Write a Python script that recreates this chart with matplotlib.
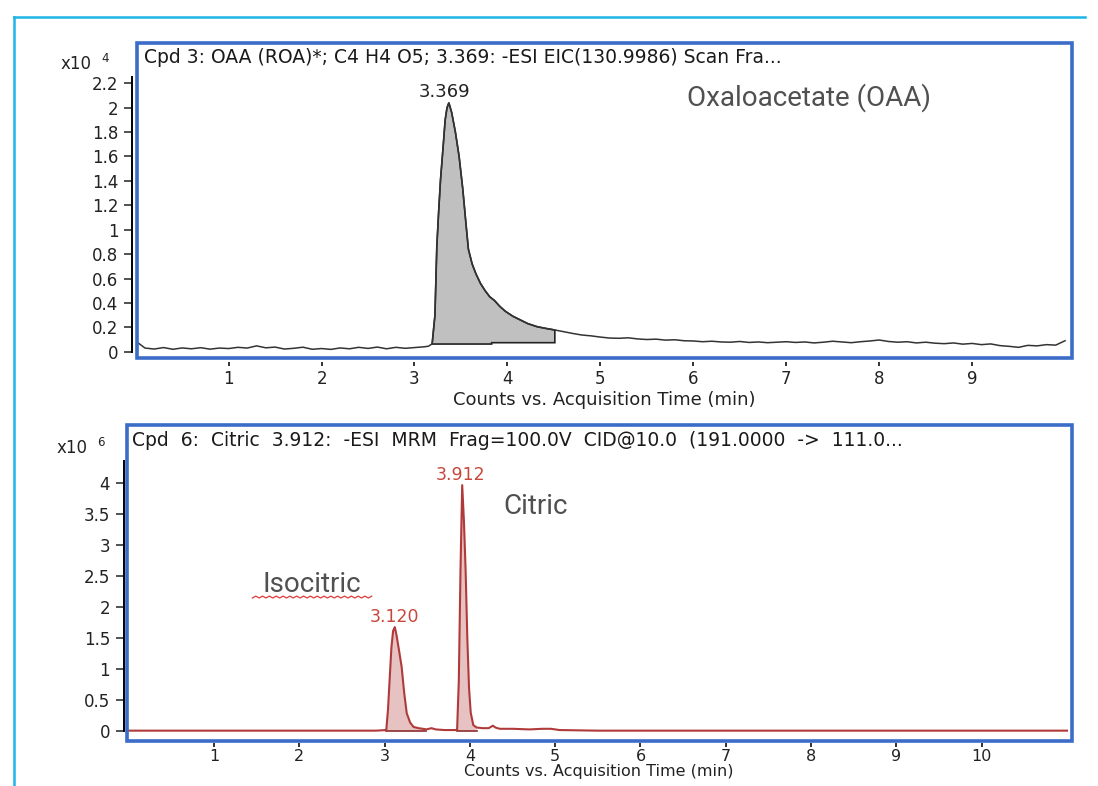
import numpy as np
import matplotlib
matplotlib.use('Agg')
import matplotlib.pyplot as plt
from matplotlib.patches import Rectangle
from matplotlib.lines import Line2D

W, H, DPI = 1098, 786, 100
BLUE = '#3a6cc8'
CYAN = '#1db4e6'
RED = '#b03a3a'
PINK = '#e6c2c2'
LABEL_RED = '#c8473c'
GREY_TXT = '#505050'

plt.rcParams['font.family'] = ['DejaVu Sans']

# ---- top panel: Oxaloacetate EIC, counts x10^4 ----
oaa_time = [0.03, 0.1, 0.2, 0.3, 0.4, 0.5, 0.6, 0.7, 0.8, 0.9,
            1.0, 1.1, 1.2, 1.3, 1.4, 1.5, 1.6, 1.7, 1.8, 1.9,
            2.0, 2.1, 2.2, 2.3, 2.4, 2.5, 2.6, 2.7, 2.8, 2.9,
            3.0, 3.1, 3.15, 3.19, 3.22, 3.24, 3.26, 3.28, 3.31, 3.33,
            3.35, 3.37, 3.40, 3.44, 3.48, 3.52, 3.55, 3.58, 3.62, 3.66,
            3.71, 3.76, 3.81, 3.86, 3.92, 3.98, 4.06, 4.14, 4.22, 4.32,
            4.42, 4.51, 4.6, 4.7, 4.8, 4.9, 5.0, 5.1, 5.2, 5.3,
            5.4, 5.5, 5.6, 5.7, 5.8, 5.9, 6.0, 6.1, 6.2, 6.3,
            6.4, 6.5, 6.6, 6.7, 6.8, 6.9, 7.0, 7.1, 7.2, 7.3,
            7.4, 7.5, 7.6, 7.7, 7.8, 7.9, 8.0, 8.1, 8.2, 8.3,
            8.4, 8.5, 8.6, 8.7, 8.8, 8.9, 9.0, 9.1, 9.2, 9.3,
            9.4, 9.5, 9.6, 9.7, 9.8, 9.9, 10.0]
oaa_counts = [0.070, 0.030, 0.022, 0.034, 0.020, 0.031, 0.024, 0.033, 0.021, 0.030,
              0.026, 0.036, 0.030, 0.048, 0.032, 0.038, 0.022, 0.028, 0.037, 0.020,
              0.026, 0.019, 0.031, 0.024, 0.036, 0.027, 0.038, 0.024, 0.036, 0.028,
              0.034, 0.040, 0.045, 0.065, 0.300, 0.860, 1.150, 1.410, 1.700, 1.900,
              2.000, 2.040, 1.960, 1.800, 1.600, 1.330, 1.080, 0.840, 0.720, 0.640,
              0.560, 0.500, 0.450, 0.420, 0.370, 0.330, 0.290, 0.260, 0.230, 0.205,
              0.190, 0.178, 0.165, 0.150, 0.137, 0.130, 0.120, 0.112, 0.110, 0.114,
              0.105, 0.100, 0.103, 0.095, 0.098, 0.090, 0.088, 0.082, 0.086, 0.080,
              0.078, 0.084, 0.076, 0.080, 0.074, 0.078, 0.082, 0.076, 0.080, 0.072,
              0.078, 0.086, 0.080, 0.074, 0.082, 0.088, 0.096, 0.084, 0.078, 0.082,
              0.072, 0.078, 0.070, 0.066, 0.072, 0.062, 0.068, 0.058, 0.064, 0.050,
              0.044, 0.036, 0.052, 0.048, 0.058, 0.054, 0.090]
# integration baseline under the OAA peak
oaa_base_time = [3.19, 3.83, 3.83, 4.51]
oaa_base_counts = [0.063, 0.063, 0.074, 0.074]
oaa_peak = (3.369, 2.04)

# ---- bottom panel: Citric / Isocitric MRM, counts x10^6 ----
cit_time = [0.0, 0.5, 1.0, 1.5, 2.0, 2.5, 2.9, 3.02, 3.04, 3.06,
            3.08, 3.10, 3.12, 3.14, 3.17, 3.20, 3.23, 3.26, 3.30, 3.34,
            3.40, 3.45, 3.49, 3.55, 3.60, 3.70, 3.80, 3.85, 3.87, 3.89,
            3.91, 3.93, 3.95, 3.97, 3.99, 4.01, 4.04, 4.08, 4.15, 4.22,
            4.27, 4.30, 4.35, 4.50, 4.70, 4.85, 4.95, 5.05, 5.5, 6.0,
            7.0, 8.0, 9.0, 10.0, 11.0]
cit_counts = [0.01, 0.01, 0.01, 0.01, 0.01, 0.01, 0.01, 0.02, 0.35, 0.85,
              1.35, 1.62, 1.68, 1.55, 1.30, 1.04, 0.62, 0.29, 0.14, 0.07,
              0.05, 0.04, 0.03, 0.05, 0.03, 0.02, 0.02, 0.02, 0.80, 2.60,
              3.97, 3.40, 2.60, 1.50, 0.70, 0.30, 0.10, 0.06, 0.05, 0.05,
              0.09, 0.06, 0.04, 0.04, 0.03, 0.04, 0.04, 0.02, 0.01, 0.01,
              0.01, 0.01, 0.01, 0.01, 0.01]
iso_window = (3.02, 3.49)
cit_window = (3.85, 4.08)
iso_peak = (3.120, 1.68)
cit_peak = (3.912, 3.97)

oaa_yticks = [0, 0.2, 0.4, 0.6, 0.8, 1, 1.2, 1.4, 1.6, 1.8, 2, 2.2]
oaa_ylabels = ['0', '0.2', '0.4', '0.6', '0.8', '1', '1.2', '1.4', '1.6', '1.8', '2', '2.2']
cit_yticks = [0, 0.5, 1, 1.5, 2, 2.5, 3, 3.5, 4]
cit_ylabels = ['0', '0.5', '1', '1.5', '2', '2.5', '3', '3.5', '4']
oaa_xticks = [1, 2, 3, 4, 5, 6, 7, 8, 9]
cit_xticks = [1, 2, 3, 4, 5, 6, 7, 8, 9, 10]

oaa_title = 'Cpd 3: OAA (ROA)*; C4 H4 O5; 3.369: -ESI EIC(130.9986) Scan Fra...'
cit_title = ('Cpd  6:  Citric  3.912:  -ESI  MRM  Frag=100.0V  CID@10.0  '
             '(191.0000  ->  111.0...')


def fig_box(left, top, right, bottom):
    # pixel box -> figure fraction [l, b, w, h]
    return [left / W, 1 - bottom / H, (right - left) / W, (bottom - top) / H]


def style_panel(ax, xlim, ylim, yticks, ylabels, ytop, xticks, gap,
                xout, xpad, xsize, xlabsize, xlabpad):
    ax.set_xlim(xlim)
    ax.set_ylim(ylim)
    for side in ['top', 'right', 'bottom']:
        ax.spines[side].set_visible(False)
    ax.spines['left'].set_position(('outward', gap))
    ax.spines['left'].set_bounds(0, ytop)
    ax.spines['left'].set_linewidth(1.4)
    ax.spines['bottom'].set_position(('outward', xout))
    ax.set_yticks(yticks, ylabels)
    ax.set_xticks(xticks, [str(x) for x in xticks])
    ax.tick_params(axis='y', length=6, width=1.1, pad=4, labelsize=12, colors='#222222')
    ax.tick_params(axis='x', length=3.2, width=1.3, pad=xpad, labelsize=xsize,
                   colors='#222222')
    ax.add_patch(Rectangle((0, 0), 1, 1, transform=ax.transAxes, fill=False,
                           edgecolor=BLUE, lw=2.6, clip_on=False, zorder=5))
    ax.set_xlabel('Counts vs. Acquisition Time (min)', fontsize=xlabsize,
                  color='#222222', labelpad=xlabpad)


fig = plt.figure(figsize=(W / DPI, H / DPI), dpi=DPI)

# cyan frame of the slide
fig.add_artist(Line2D([14 / W, 14 / W], [0, 1 - 17 / H], color=CYAN, lw=1.8))
fig.add_artist(Line2D([14 / W, 1085 / W], [1 - 17 / H, 1 - 17 / H], color=CYAN, lw=1.8))

# ---------------- top panel ----------------
ax1 = fig.add_axes(fig_box(137, 43, 1072, 357.7))
style_panel(ax1, (0.014, 10.075), (-0.049, 2.53), oaa_yticks, oaa_ylabels,
            2.25, oaa_xticks, 3.5, 3, 3, 12, 13, 2)

t = np.array(oaa_time)
c = np.array(oaa_counts)
sel = (t >= oaa_base_time[0]) & (t <= oaa_base_time[-1])
poly_x = list(t[sel]) + oaa_base_time[::-1]
poly_y = list(c[sel]) + oaa_base_counts[::-1]
ax1.fill(poly_x, poly_y, facecolor='#c0c0c0', edgecolor='#222222', lw=1.2, zorder=2)
ax1.plot(oaa_time, oaa_counts, color='#333333', lw=1.1, zorder=3)
ax1.annotate('3.369', xy=oaa_peak, xytext=(-3, 1), textcoords='offset points',
             ha='center', va='bottom', fontsize=13, color='#222222')
ax1.text(7.24, 2.08, 'Oxaloacetate (OAA)', ha='center', va='center',
         fontsize=20, color=GREY_TXT, family=['Roboto', 'DejaVu Sans'])
ax1.text(0.007, 0.955, oaa_title, transform=ax1.transAxes, ha='left',
         va='center', fontsize=13.5, color='#1a1a1a')

fig.text(92 / W, 1 - 64 / H, 'x10', ha='right', va='center', fontsize=12, color='#222222')
fig.text(101 / W, 1 - 58 / H, '4', ha='left', va='center', fontsize=8.5, color='#222222')

# ---------------- bottom panel ----------------
ax2 = fig.add_axes(fig_box(126.7, 425, 1071.7, 740.7))
style_panel(ax2, (-0.023, 11.055), (-0.152, 4.94), cit_yticks, cit_ylabels,
            4.36, cit_xticks, 2, 1.5, 1.5, 11.5, 11.5, 0)

t2 = np.array(cit_time)
c2 = np.array(cit_counts)
for lo, hi in [iso_window, cit_window]:
    m = (t2 >= lo) & (t2 <= hi)
    ax2.fill_between(t2[m], 0.01, c2[m], facecolor=PINK, edgecolor='none', zorder=2)
    ax2.plot([lo, hi], [0.01, 0.01], color='#8c2a2a', lw=1.2, zorder=3)
ax2.plot(cit_time, cit_counts, color=RED, lw=1.5, zorder=3)

ax2.annotate('3.912', xy=cit_peak, xytext=(-1, 1), textcoords='offset points',
             ha='center', va='bottom', fontsize=12.5, color=LABEL_RED)
ax2.annotate('3.120', xy=iso_peak, xytext=(0, 1), textcoords='offset points',
             ha='center', va='bottom', fontsize=12.5, color=LABEL_RED)
ax2.text(4.77, 3.62, 'Citric', ha='center', va='center', fontsize=20,
         color=GREY_TXT, family=['Roboto', 'DejaVu Sans'])
ax2.text(2.15, 2.36, 'Isocitric', ha='center', va='center', fontsize=20,
         color=GREY_TXT, family=['Roboto', 'DejaVu Sans'])
# spell-check squiggle under "Isocitric"
sq_x = np.linspace(1.45, 2.85, 36)
sq_y = 2.15 + 0.03 * (np.arange(36) % 2)
ax2.plot(sq_x, sq_y, color='#e03a3a', lw=0.9, zorder=3)
ax2.text(0.006, 0.95, cit_title, transform=ax2.transAxes, ha='left',
         va='center', fontsize=13.5, color='#1a1a1a')

fig.text(88 / W, 1 - 448 / H, 'x10', ha='right', va='center', fontsize=12, color='#222222')
fig.text(97 / W, 1 - 442 / H, '6', ha='left', va='center', fontsize=8.5, color='#222222')

fig.savefig('out.png', dpi=DPI)
